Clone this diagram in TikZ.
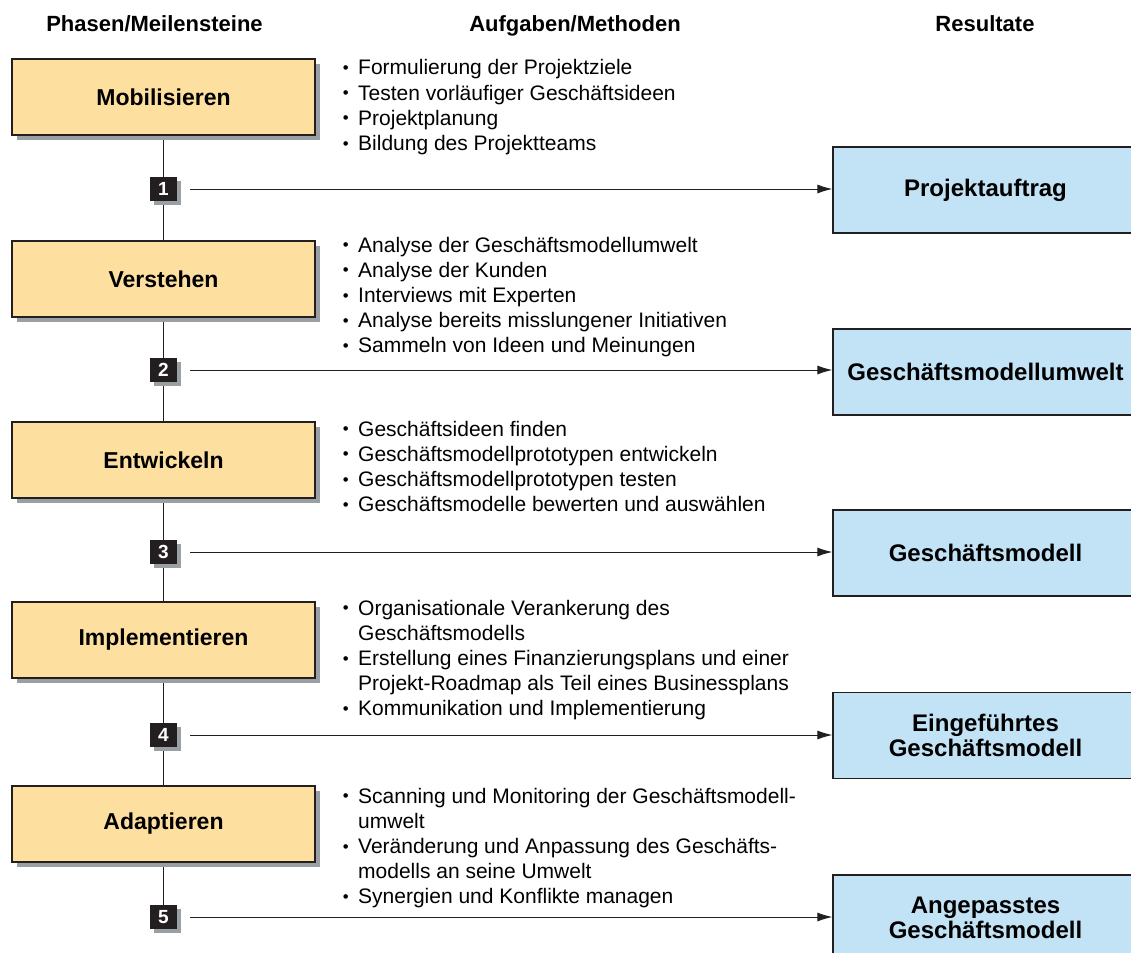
\documentclass[tikz,border=0pt]{standalone}
\usepackage{graphicx}
\usepackage{fontspec}
\setmainfont{Liberation Sans}
\usetikzlibrary{arrows.meta,shadows,backgrounds}

\definecolor{phasefill}{HTML}{FDDF9F}
\definecolor{resultfill}{HTML}{C2E3F5}
\definecolor{shadowgray}{HTML}{9A9FA3}
\definecolor{inkgray}{HTML}{231F20}

\newcommand\taskdot{\raisebox{0.7pt}{\scalebox{0.8}{\textbullet}}}
\newcommand\tasklist[1]{\begin{tabular}[t]{@{}l@{\hspace{4.7pt}}l@{}}#1\end{tabular}}

\begin{document}
\begin{tikzpicture}[x=0.5pt,y=-0.5pt,
	phase/.style={draw=inkgray,line width=0.6pt,fill=phasefill,minimum width=151.5pt,minimum height=38pt,inner sep=0pt,
		font=\fontsize{11.5}{13}\selectfont\bfseries,
		drop shadow={shadow xshift=2.5pt,shadow yshift=-2.5pt,fill=shadowgray,opacity=1}},
	milestone/.style={fill=inkgray,text=white,minimum width=13.5pt,minimum height=12pt,inner sep=0pt,
		font=\fontsize{9.5}{10}\selectfont\bfseries,
		drop shadow={shadow xshift=2pt,shadow yshift=-2pt,fill=shadowgray,opacity=1}},
	result/.style={draw=inkgray,line width=0.6pt,fill=resultfill,minimum width=152.5pt,minimum height=43pt,inner sep=0pt,
		align=center,font=\fontsize{12}{12.5}\selectfont\bfseries},
	header/.style={anchor=base,font=\fontsize{11}{13}\selectfont\bfseries},
	tasks/.style={anchor=base west,inner sep=0pt,font=\fontsize{10.5}{12.6}\selectfont},
	link/.style={draw=inkgray,line width=0.5pt},
	arrow/.style={link,-{Latex[length=7.5pt,width=4.5pt]},shorten <=6.5pt}]
	\useasboundingbox (0,0) rectangle (1131,953);
	\clip (0,0) rectangle (1131,953);

		\node[header] (hphase) at (154.5,32) {Phasen/Meilensteine};
		\node[header] (htask) at (575,32) {Aufgaben/Methoden};
		\node[header] (hresult) at (985,32) {Resultate};

		\node[phase] (p1) at (163.5,97) {Mobilisieren};
		\node[phase] (p2) at (163.5,279) {Verstehen};
		\node[phase] (p3) at (163.5,460) {Entwickeln};
		\node[phase] (p4) at (163.5,640) {Implementieren};
		\node[phase] (p5) at (163.5,824) {Adaptieren};

		\node[milestone] (m1) at (163.5,189) {1};
		\node[milestone] (m2) at (163.5,370) {2};
		\node[milestone] (m3) at (163.5,552) {3};
		\node[milestone] (m4) at (163.5,735) {4};
		\node[milestone] (m5) at (163.5,917) {5};

		\node[result] (r1) at (985.5,190) {Projektauftrag};
		\node[result] (r2) at (985.5,372) {Geschäftsmodellumwelt};
		\node[result] (r3) at (985.5,553) {Geschäftsmodell};
		\node[result] (r4) at (985.5,735.5) {Eingeführtes\\Geschäftsmodell};
		\node[result] (r5) at (985.5,918) {Angepasstes\\Geschäftsmodell};

		\node[tasks] (t1) at (342.5,75) {\tasklist{
			\taskdot & Formulierung der Projektziele\\
			\taskdot & Testen vorläufiger Geschäftsideen\\
			\taskdot & Projektplanung\\
			\taskdot & Bildung des Projektteams}};
		\node[tasks] (t2) at (342.5,252) {\tasklist{
			\taskdot & Analyse der Geschäftsmodellumwelt\\
			\taskdot & Analyse der Kunden\\
			\taskdot & Interviews mit Experten\\
			\taskdot & Analyse bereits misslungener Initiativen\\
			\taskdot & Sammeln von Ideen und Meinungen}};
		\node[tasks] (t3) at (342.5,436) {\tasklist{
			\taskdot & Geschäftsideen finden\\
			\taskdot & Geschäftsmodellprototypen entwickeln\\
			\taskdot & Geschäftsmodellprototypen testen\\
			\taskdot & Geschäftsmodelle bewerten und auswählen}};
		\node[tasks] (t4) at (342.5,615) {\tasklist{
			\taskdot & Organisationale Verankerung des\\
			 & Geschäftsmodells\\
			\taskdot & Erstellung eines Finanzierungsplans und einer\\
			 & Projekt-Roadmap als Teil eines Businessplans\\
			\taskdot & Kommunikation und Implementierung}};
		\node[tasks] (t5) at (342.5,803) {\tasklist{
			\taskdot & Scanning und Monitoring der Geschäftsmodell-\\
			 & umwelt\\
			\taskdot & Veränderung und Anpassung des Geschäfts-\\
			 & modells an seine Umwelt\\
			\taskdot & Synergien und Konflikte managen}};

	\begin{scope}[on background layer]
		\draw[link] (p1) -- (m1) -- (p2) -- (m2) -- (p3) -- (m3) -- (p4) -- (m4) -- (p5) -- (m5);
	\end{scope}

		\draw[arrow] (m1) -- (m1 -| r1.west);
		\draw[arrow] (m2) -- (m2 -| r2.west);
		\draw[arrow] (m3) -- (m3 -| r3.west);
		\draw[arrow] (m4) -- (m4 -| r4.west);
		\draw[arrow] (m5) -- (m5 -| r5.west);
	\end{tikzpicture}
\end{document}
